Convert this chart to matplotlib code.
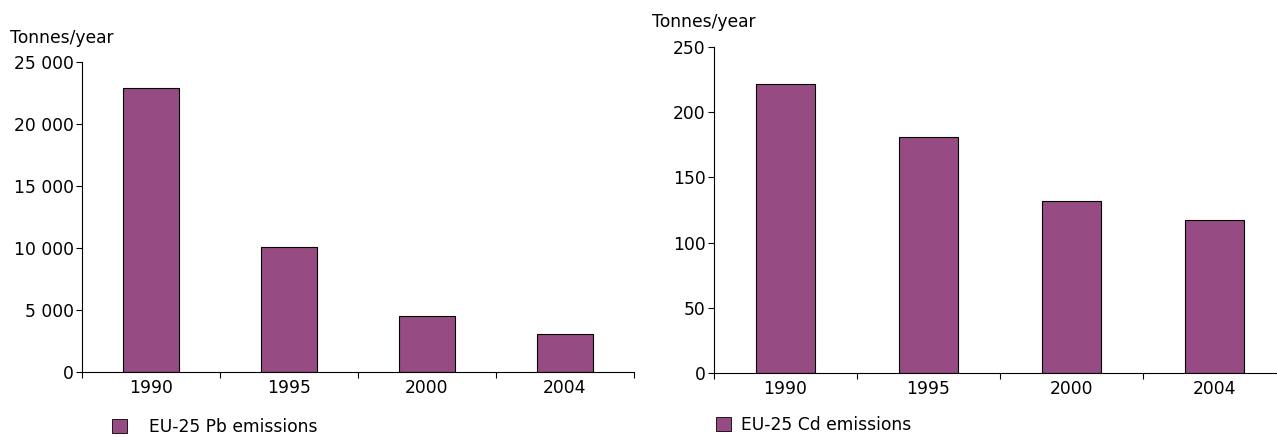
import matplotlib.pyplot as plt
from matplotlib.patches import Patch
import numpy as np

years = ['1990', '1995', '2000', '2004']
pb_values = [22900, 10100, 4500, 3100]
cd_values = [222, 181, 132, 117]
pb_ticks = [0, 5000, 10000, 15000, 20000, 25000]
cd_ticks = [0, 50, 100, 150, 200, 250]

bar_color = '#964C82'

plt.rcParams['font.family'] = 'DejaVu Sans'
plt.rcParams['font.size'] = 12.3

fig = plt.figure(figsize=(12.77, 4.37), dpi=100)


def fmt_thousands(v):
    return '{:,}'.format(int(v)).replace(',', ' ')


def draw_panel(ax, values, yticks, label, legend_pos, textpad):
    x = np.arange(len(years))
    ax.bar(x, values, width=0.41, color=bar_color, edgecolor='black', linewidth=0.8)
    ax.set_xlim(-0.5, len(years) - 0.5)
    ax.set_ylim(0, yticks[-1])
    ax.set_yticks(yticks)
    ax.set_yticklabels([fmt_thousands(v) for v in yticks])
    # ticks on category boundaries, labels centred
    ax.set_xticks(np.arange(len(years) + 1) - 0.5)
    ax.set_xticklabels([])
    ax.set_xticks(x, minor=True)
    ax.set_xticklabels(years, minor=True)
    ax.tick_params(axis='x', which='minor', length=0, pad=5)
    ax.tick_params(axis='x', which='major', length=4, width=0.8)
    ax.tick_params(axis='y', length=4, width=0.8, pad=2)
    ax.spines['top'].set_visible(False)
    ax.spines['right'].set_visible(False)
    ax.spines['left'].set_linewidth(0.8)
    ax.spines['bottom'].set_linewidth(0.8)
    ax.legend(handles=[Patch(facecolor=bar_color, edgecolor='black', linewidth=0.6, label=label)],
              loc='lower left', bbox_to_anchor=legend_pos, bbox_transform=fig.transFigure,
              frameon=False, handlelength=0.85, handleheight=0.85, handletextpad=textpad,
              borderpad=0, borderaxespad=0)


ax1 = fig.add_axes([82 / 1277, 65 / 437, 552 / 1277, 310 / 437])
draw_panel(ax1, pb_values, pb_ticks, 'EU-25 Pb emissions', (112 / 1277, 1 / 437), 1.3)
fig.text(10 / 1277, 1 - 38 / 437, 'Tonnes/year', va='center', ha='left')

ax2 = fig.add_axes([714 / 1277, 64 / 437, 572 / 1277, 326 / 437])
draw_panel(ax2, cd_values, cd_ticks, 'EU-25 Cd emissions', (716 / 1277, 3 / 437), 0.6)
fig.text(652 / 1277, 1 - 22 / 437, 'Tonnes/year', va='center', ha='left')

fig.savefig('out.png', dpi=100)
